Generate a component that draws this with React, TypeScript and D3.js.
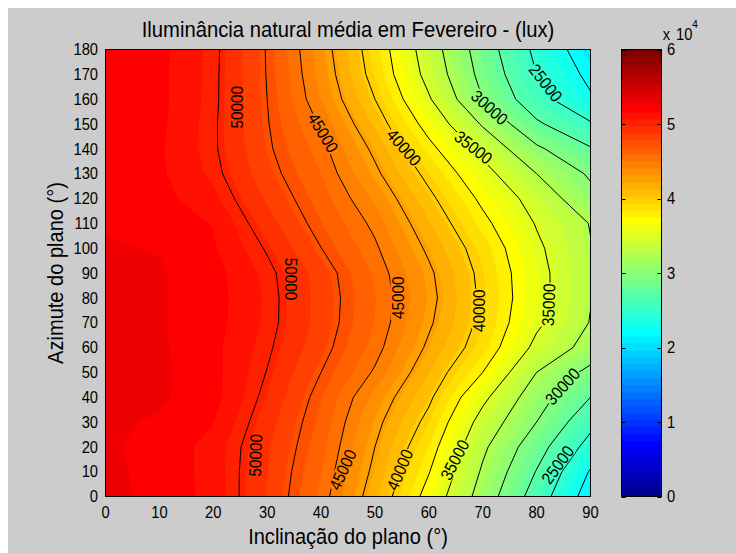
import React, { useMemo } from 'react';
import * as d3 from 'd3';

// Inclination of the plane (deg) - grid columns
const inclinations = [0, 10, 20, 30, 40, 50, 60, 70, 80, 90];
// Azimuth of the plane (deg) - grid rows
const azimuths = [0, 10, 20, 30, 40, 50, 60, 70, 80, 90, 100, 110, 120, 130, 140, 150, 160, 170, 180];
// Mean natural illuminance (lux), one row per azimuth, one value per inclination
const lux: number[][] = [
  [52700, 52300, 51200, 48700, 45650, 41560, 36690, 31460, 26350, 21300], // 0
  [52650, 52300, 51150, 48770, 45970, 42080, 37600, 32190, 27390, 22300], // 10
  [52600, 52300, 51150, 48920, 46320, 42500, 38460, 32950, 28500, 24100], // 20
  [52650, 52400, 51600, 49210, 46600, 43030, 39420, 34090, 30000, 25700], // 30
  [52800, 52650, 51950, 49610, 46940, 43710, 40380, 35560, 31070, 27500], // 40
  [52900, 52700, 51900, 49950, 47500, 44810, 41320, 37500, 32500, 29300], // 50
  [52900, 52650, 51850, 50230, 48050, 45530, 42180, 38930, 34380, 31600], // 60
  [52900, 52600, 51950, 50450, 48310, 45900, 42770, 39480, 35440, 32400], // 70
  [52900, 52600, 52000, 50470, 48350, 46000, 43050, 39610, 35820, 32600], // 80
  [52850, 52600, 51950, 50350, 48250, 45750, 42830, 39460, 35770, 32650], // 90
  [52600, 52450, 51700, 49860, 47520, 45230, 42170, 38990, 35420, 32600], // 100
  [52400, 52200, 51500, 49210, 46910, 44660, 41370, 38040, 34850, 32400], // 110
  [52300, 51900, 50900, 48600, 46410, 43850, 40470, 37050, 34020, 30800], // 120
  [52200, 51750, 50400, 48070, 45930, 42880, 39420, 35830, 32500, 29650], // 130
  [52150, 51700, 50200, 47740, 45450, 42100, 38100, 34340, 30420, 27700], // 140
  [52100, 51800, 50200, 47600, 44820, 41040, 36670, 32250, 27880, 25250], // 150
  [52100, 51850, 50280, 47500, 44060, 40000, 35230, 30000, 25910, 22800], // 160
  [52100, 51850, 50300, 47430, 43690, 39250, 34220, 29250, 25000, 21900], // 170
  [52100, 51850, 50350, 47390, 43430, 38900, 33750, 28770, 24450, 21000], // 180
];

// Contour line levels
const lineLevels = [22500, 25000, 27500, 30000, 32500, 35000, 37500, 40000, 42500, 45000, 47500, 50000];

// Contour labels: text, position (inclination, azimuth), text angle
const labelTexts = ['50000', '45000', '40000', '35000', '30000', '25000', '50000', '45000', '40000', '35000', '50000', '45000', '40000', '35000', '30000', '25000'];
const labelIncl = [24.4, 40.4, 55.4, 68.3, 71.3, 81.7, 34.4, 54.2, 69.3, 82.2, 27.8, 44.0, 54.6, 64.8, 84.8, 83.9];
const labelAzim = [156.7, 146.5, 140.6, 140.6, 156.7, 166.6, 87.6, 80.0, 74.8, 77.2, 16.6, 10.8, 10.8, 14.8, 44.4, 12.8];
const labelAngle = [-90, 59, 49, 38, 42, 52, 90, -90, -90, -88, -88, -65, -67, -62, -48, -54];

const xTicks = [0, 10, 20, 30, 40, 50, 60, 70, 80, 90];
const yTicks = [0, 10, 20, 30, 40, 50, 60, 70, 80, 90, 100, 110, 120, 130, 140, 150, 160, 170, 180];
const cbTicks = [0, 1, 2, 3, 4, 5, 6];

const CMIN = 0;
const CMAX = 60000;
const NCOL = 64;

// MATLAB-style jet colormap
function jet(n: number): string[] {
  const m = Math.ceil(n / 4);
  const u: number[] = [];
  for (let i = 1; i <= m; i++) u.push(i / m);
  for (let i = 0; i < m - 1; i++) u.push(1);
  for (let i = m; i >= 1; i--) u.push(i / m);
  const r = new Array(n).fill(0);
  const g = new Array(n).fill(0);
  const b = new Array(n).fill(0);
  const off = Math.ceil(m / 2) - (n % 4 === 1 ? 1 : 0);
  u.forEach((v, i) => {
    const gg = off + i;
    const rr = gg + m;
    const bb = gg - m;
    if (gg >= 0 && gg < n) g[gg] = v;
    if (rr >= 0 && rr < n) r[rr] = v;
    if (bb >= 0 && bb < n) b[bb] = v;
  });
  return r.map((_, k) => d3.rgb(Math.round(r[k] * 255), Math.round(g[k] * 255), Math.round(b[k] * 255)).formatHex());
}

const FONT = "'Liberation Sans', Arial, Helvetica, sans-serif";

const T = ({ x, y, size, anchor = 'start', rotate = 0, sx = 0.92, children }: any) => (
  <text
    transform={`translate(${x},${y}) rotate(${rotate}) scale(${sx},1)`}
    fontSize={size}
    textAnchor={anchor}
    fill="#000"
  >
    {children}
  </text>
);

export default function App() {
  const X0 = 105.5, X1 = 590.5, Y0 = 496.5, Y1 = 49.5;
  const CB0 = 621.5, CB1 = 661.5;

  const xs = d3.scaleLinear().domain([0, 90]).range([X0, X1]);
  const ys = d3.scaleLinear().domain([0, 180]).range([Y0, Y1]);
  const cby = d3.scaleLinear().domain([CMIN, CMAX]).range([Y0, Y1]);

  const colors = useMemo(() => jet(NCOL), []);

  const { bands, lines } = useMemo(() => {
    const nx = inclinations.length;
    const ny = azimuths.length;
    const values: number[] = [];
    for (let j = 0; j < ny; j++) for (let i = 0; i < nx; i++) values.push(lux[j][i]);
    const gx = d3.scaleLinear().domain([0.5, nx - 0.5]).range([inclinations[0], inclinations[nx - 1]]);
    const gy = d3.scaleLinear().domain([0.5, ny - 0.5]).range([azimuths[0], azimuths[ny - 1]]);
    const proj = d3.geoTransform({
      point(this: any, x: number, y: number) {
        this.stream.point(xs(gx(x)), ys(gy(y)));
      },
    });
    const path = d3.geoPath(proj as any);
    const step = (CMAX - CMIN) / NCOL;
    const thr = d3.range(NCOL).map((k) => CMIN + k * step);
    const bandContours = d3.contours().size([nx, ny]).thresholds(thr)(values);
    const bands = bandContours
      .filter((c) => c.coordinates.length > 0)
      .map((c) => {
        const k = Math.max(0, Math.min(NCOL - 1, Math.round((c.value - CMIN) / step)));
        return { d: path(c as any) || '', k };
      });
    const lineContours = d3.contours().size([nx, ny]).thresholds(lineLevels)(values);
    const lines = lineContours.map((c) => path(c as any) || '');
    return { bands, lines };
  }, []);

  const labels = labelTexts.map((t, i) => ({
    text: t,
    x: xs(labelIncl[i]),
    y: ys(labelAzim[i]),
    a: labelAngle[i],
  }));

  const cbStep = (CMAX - CMIN) / NCOL;

  return (
    <svg
      width={736}
      height={553}
      style={{ position: 'fixed', left: 0, top: 0, display: 'block' }}
      fontFamily={FONT}
    >
      <defs>
        <clipPath id="plotClip">
          <rect x={X0} y={Y1} width={X1 - X0} height={Y0 - Y1} />
        </clipPath>
        <mask id="gapMask" maskUnits="userSpaceOnUse" x={0} y={0} width={736} height={553}>
          <rect x={0} y={0} width={736} height={553} fill="white" />
          {labels.map((l, i) => (
            <rect
              key={i}
              x={-22}
              y={-7}
              width={44}
              height={14}
              fill="black"
              transform={`translate(${l.x},${l.y}) rotate(${l.a})`}
            />
          ))}
        </mask>
      </defs>
      <rect x={0} y={0} width={736} height={553} fill="#ffffff" />
      <rect x={8} y={8} width={728} height={545} fill="#cccccc" />

      {/* filled contour bands */}
      <g clipPath="url(#plotClip)">
        <rect x={X0} y={Y1} width={X1 - X0} height={Y0 - Y1} fill={colors[0]} />
        {bands.map((b, i) => (
          <path key={i} d={b.d} fill={colors[b.k]} stroke="none" />
        ))}
        <g mask="url(#gapMask)">
          {lines.map((d, i) => (
            <path key={i} d={d} fill="none" stroke="#000" strokeWidth={1} />
          ))}
        </g>
      </g>

      {/* contour labels */}
      {labels.map((l, i) => (
        <text
          key={i}
          transform={`translate(${l.x},${l.y}) rotate(${l.a}) scale(0.9,1)`}
          fontSize={17}
          textAnchor="middle"
          dy="0.36em"
          fill="#000"
        >
          {l.text}
        </text>
      ))}

      {/* plot box */}
      <rect x={X0} y={Y1} width={X1 - X0} height={Y0 - Y1} fill="none" stroke="#000" strokeWidth={1} />

      {/* x ticks */}
      {xTicks.map((v) => (
        <T key={v} x={xs(v)} y={518} size={16} anchor="middle">{v}</T>
      ))}
      {/* y ticks */}
      {yTicks.map((v) => (
        <T key={v} x={98} y={ys(v) + 5.8} size={16} anchor="end">{v}</T>
      ))}

      {/* title and axis labels */}
      <T x={348} y={36.5} size={22} anchor="middle">Iluminância natural média em Fevereiro - (lux)</T>
      <T x={348} y={544} size={21.8} anchor="middle">Inclinação do plano (°)</T>
      <T x={63} y={273} size={21.8} anchor="middle" rotate={-90}>Azimute do plano (°)</T>

      {/* colorbar */}
      {d3.range(NCOL).map((k) => (
        <rect
          key={k}
          x={CB0}
          y={cby(CMIN + (k + 1) * cbStep)}
          width={CB1 - CB0}
          height={cby(CMIN + k * cbStep) - cby(CMIN + (k + 1) * cbStep) + 0.5}
          fill={colors[k]}
        />
      ))}
      <rect x={CB0} y={Y1} width={CB1 - CB0} height={Y0 - Y1} fill="none" stroke="#000" strokeWidth={1} />
      {cbTicks.map((v) => (
        <g key={v}>
          <line x1={CB0} x2={CB0 + 4} y1={Math.round(cby(v * 10000)) + 0.5} y2={Math.round(cby(v * 10000)) + 0.5} stroke="#000" />
          <line x1={CB1 - 4} x2={CB1} y1={Math.round(cby(v * 10000)) + 0.5} y2={Math.round(cby(v * 10000)) + 0.5} stroke="#000" />
          <T x={667} y={cby(v * 10000) + 5.8} size={16}>{v}</T>
        </g>
      ))}
      <T x={662.7} y={40} size={16}>x</T>
      <T x={676} y={40} size={16}>10</T>
      <T x={692} y={28.3} size={11.5}>4</T>
    </svg>
  );
}
